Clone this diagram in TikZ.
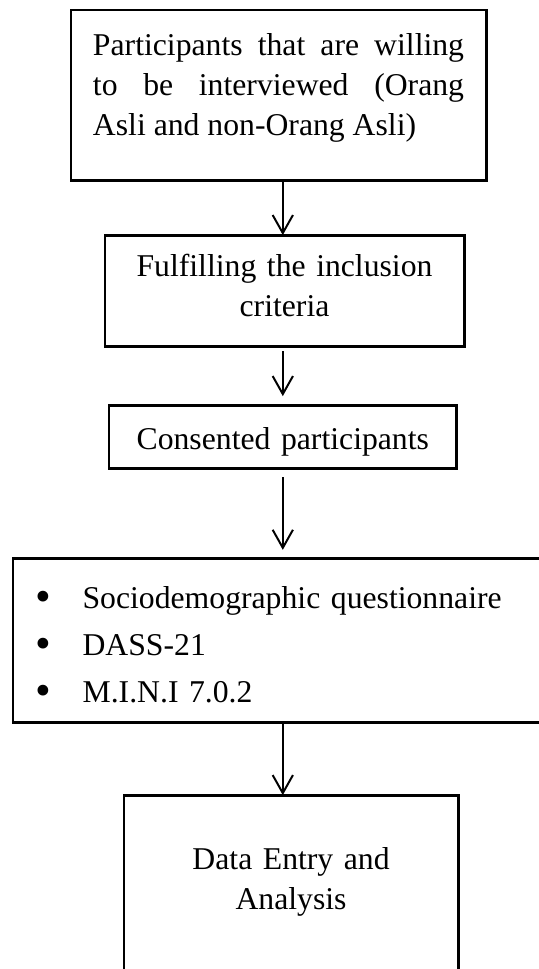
\documentclass[tikz,border=0pt]{standalone}
\usepackage{fontspec}
\setmainfont{Liberation Serif}
\usetikzlibrary{positioning,arrows.meta}

\newcommand{\bigbullet}{\makebox[18pt][l]{\raisebox{-1.4pt}{\fontsize{17}{17}\selectfont\textbullet}}}

\begin{document}
\begin{tikzpicture}[box/.style = {draw, rectangle, line width=1.1pt, outer sep=0pt, inner ysep=0pt, font=\fontsize{12}{15.2}\selectfont},
    arr/.style = {-{Straight Barb[length=2.4mm,width=2.7mm]}, line width=0.75pt}]
    \useasboundingbox (0,0) rectangle (7.17,-12.89);
    \clip (0,0) rectangle (7.17,-12.89);
    \node[box, text width=4.936cm, inner xsep=0.293cm, text height=0.599cm, text depth=1.663cm, align=justify] (1) at (3.705,-1.264) {Participants that are willing\linebreak to be interviewed (Orang\linebreak Asli and non-Orang Asli)};
    \node[box, text width=4.776cm, inner xsep=0pt, text height=0.546cm, text depth=0.931cm, align=center] (2) [below=0.732cm of 1, xshift=0.08cm] {Fulfilling the inclusion\\criteria};
    \node[box, text width=4.623cm, inner xsep=0pt, text height=0.585cm, text depth=0.253cm, align=center] (3) [below=0.785cm of 2, xshift=-0.023cm] {Consented participants};
    \node[box, font=\fontsize{12}{17.8}\selectfont, text width=6.692cm, inner xsep=0.293cm, text height=0.665cm, text depth=1.517cm, align=left] (4) [below=1.197cm of 3, xshift=0.05cm] {\bigbullet Sociodemographic questionnaire\\
        \bigbullet DASS-21\\
        \bigbullet M.I.N.I 7.0.2};
    \node[box, text width=4.444cm, inner xsep=0pt, text height=0.985cm, text depth=1.743cm, align=center] (5) [below=0.971cm of 4, xshift=0.06cm] {Data Entry and\\Analysis};
    \draw[arr] (1.south -| 3.center) -- (2.north -| 3.center);
    \draw[arr, shorten <=0.07cm, shorten >=0.12cm] (2.south -| 3.center) -- (3);
    \draw[arr, shorten <=0.12cm, shorten >=0.11cm] (3) -- (4.north -| 3.center);
    \draw[arr] (4.south -| 3.center) -- (5.north -| 3.center);
\end{tikzpicture}
\end{document}
